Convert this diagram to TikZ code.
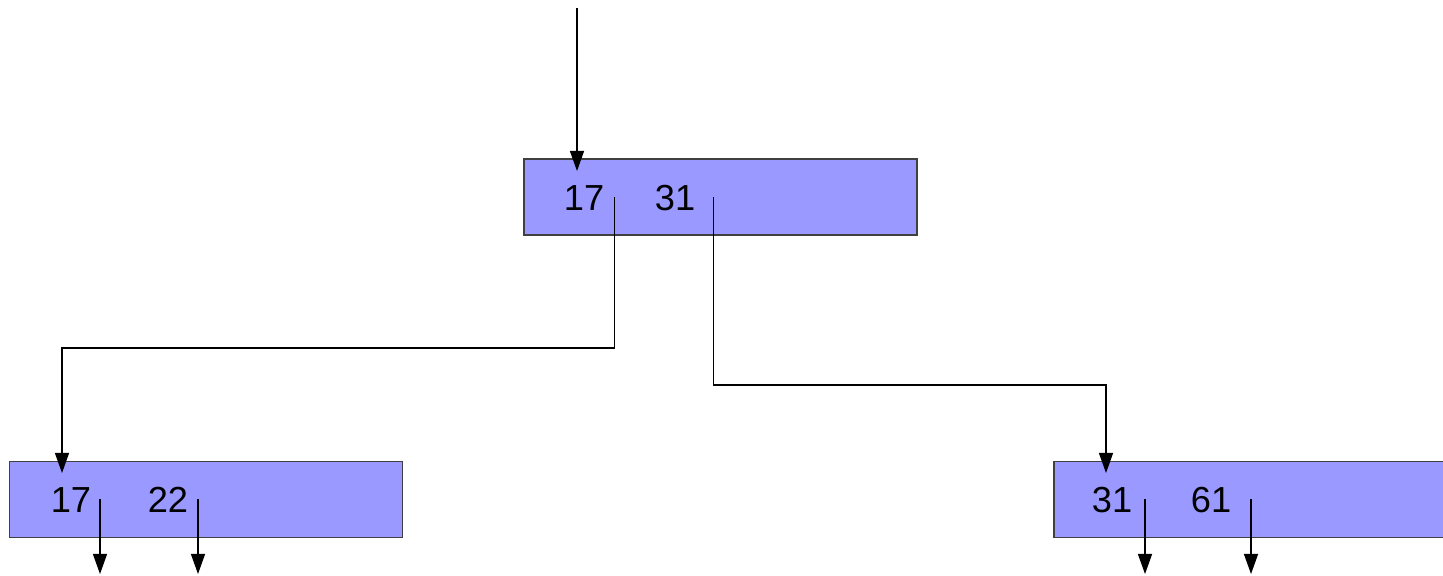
\documentclass[tikz,border=0pt]{standalone}
\usepackage{fontspec}
\setmainfont{Liberation Sans}
\usetikzlibrary{%
  arrows.meta,%
  calc%
}
\definecolor{nodefill}{HTML}{9999FF}
\definecolor{nodeline}{HTML}{404040}
\tikzset{>={Triangle[length=0.2cm,width=0.14cm]}}
\tikzset{
  page/.style={draw=nodeline,line width=0.4pt,fill=nodefill,
    minimum width=3.93cm,minimum height=0.76cm,inner sep=0pt},
  key/.style={inner sep=0pt,font=\fontsize{10.3}{12}\selectfont},
  ptr/.style={line width=0.35pt,->}
}

\begin{document}
\begin{tikzpicture}[x=0.01cm,y=-0.01cm]
    \useasboundingbox (0,0) rectangle (1443,576);
    \clip (0,0) rectangle (1443,576);
    % pages
    \node[page] (root) at (720.5,197) {};
    \node[page] (left) at (206,499.5) {};
    \node[page] (right) at (1250.5,499.5) {};
    % keys
    \node[key] (r1) at (584,198) {17};
    \node[key] (r2) at (675,198) {31};
    \node[key] (l1) at (71,500) {17};
    \node[key] (l2) at (168,500) {22};
    \node[key] (q1) at (1112,500) {31};
    \node[key] (q2) at (1211,500) {61};
    % pointer ends
    \coordinate (top) at (577,8);
    \coordinate (topin) at (577,171);
    \coordinate (rp1) at (614.5,197);
    \coordinate (rp2) at (713.5,197);
    \coordinate (lin) at (62,473);
    \coordinate (qin) at (1106,473);
    \coordinate (lp1) at (100,499);
    \coordinate (lp2) at (198,499);
    \coordinate (qp1) at (1145,499);
    \coordinate (qp2) at (1251,499);
    % arrows
    \draw[ptr] (top) -- (topin);
    \draw[ptr] (rp1) -- (rp1 |- 0,348) -- (lin |- 0,348) -- (lin);
    \draw[ptr] (rp2) -- (rp2 |- 0,385) -- (qin |- 0,385) -- (qin);
    \draw[ptr] (lp1) -- ++(0,75);
    \draw[ptr] (lp2) -- ++(0,75);
    \draw[ptr] (qp1) -- ++(0,75);
    \draw[ptr] (qp2) -- ++(0,75);
\end{tikzpicture}
\end{document}
